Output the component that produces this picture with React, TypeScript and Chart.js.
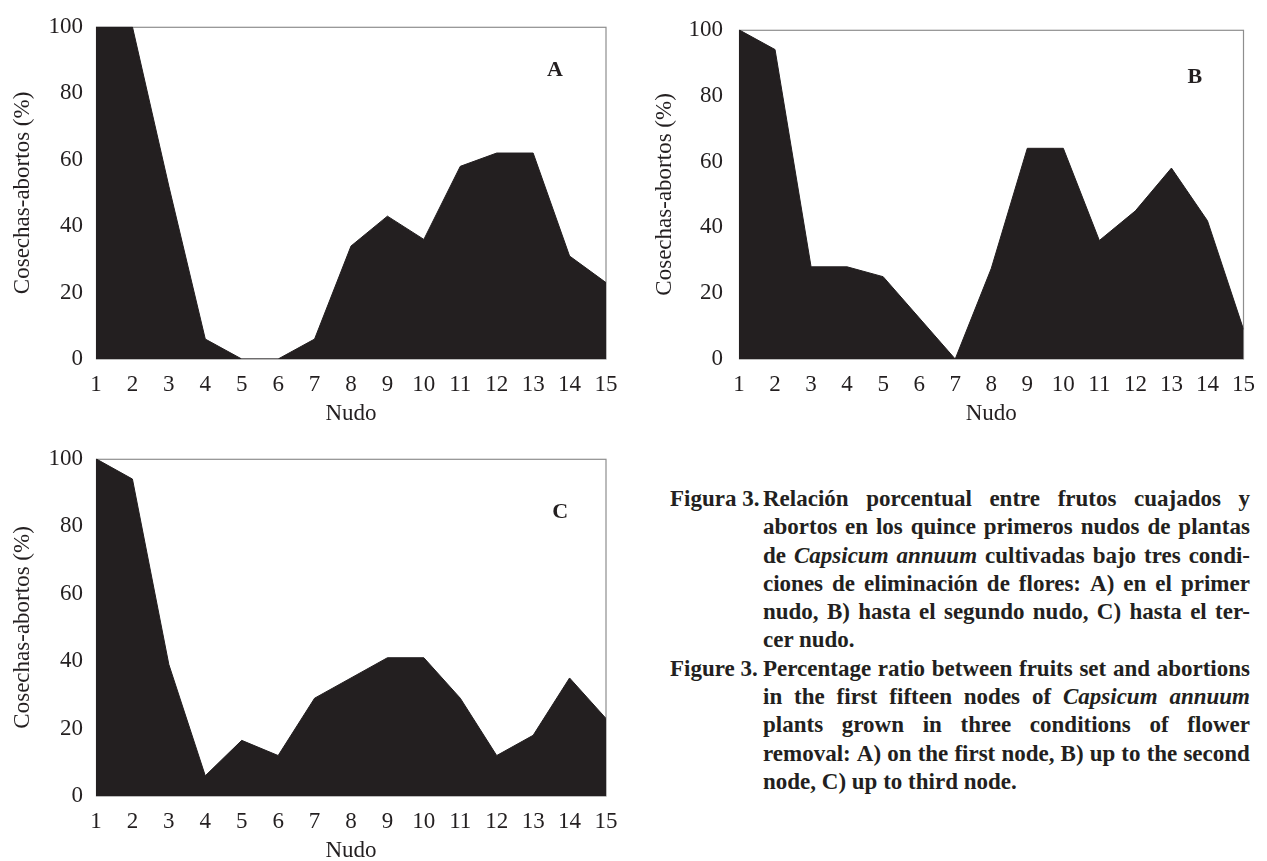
import React, { useEffect, useRef } from 'react';
import { Chart, registerables } from 'chart.js';

Chart.register(...registerables);

// ---------- data ----------
const nodes = [1, 2, 3, 4, 5, 6, 7, 8, 9, 10, 11, 12, 13, 14, 15];
const seriesA = [100, 100, 52, 6, 0, 0, 6, 34, 43, 36, 58, 62, 62, 31, 23];
const seriesB = [100, 94, 28, 28, 25, 12.5, 0, 27.5, 64, 64, 36, 45, 58, 42, 9];
const seriesC = [100, 94, 39, 6, 16.5, 12, 29, 35, 41, 41, 29, 12, 18, 35, 23];
const yTicks = [0, 20, 40, 60, 80, 100];
const yTitle = 'Cosechas-abortos (%)';
const xTitle = 'Nudo';

const captionLabelEs = 'Figura 3.';
const captionEs = [
  'Relación porcentual entre frutos cuajados y',
  'abortos en los quince primeros nudos de plantas',
  'de _Capsicum _annuum cultivadas bajo tres condi-',
  'ciones de eliminación de flores: A) en el primer',
  'nudo, B) hasta el segundo nudo, C) hasta el ter-',
  'cer nudo.',
];
const captionLabelEn = 'Figure 3.';
const captionEn = [
  'Percentage ratio between fruits set and abortions',
  'in the first fifteen nodes of _Capsicum _annuum',
  'plants grown in three conditions of flower',
  'removal: A) on the first node, B) up to the second',
  'node, C) up to third node.',
];

// ---------- style ----------
const INK = '#231f20';
const FRAME = '#8e8e8e';
const SERIF = '"Liberation Serif", "Times New Roman", serif';

const framePlugin = {
  id: 'frameBox',
  beforeDatasetsDraw(chart: any) {
    const { ctx, chartArea: a } = chart;
    ctx.save();
    ctx.strokeStyle = FRAME;
    ctx.lineWidth = 1.2;
    ctx.strokeRect(a.left + 0.5, a.top + 0.5, a.right - a.left - 0.5, a.bottom - a.top - 0.5);
    ctx.restore();
  },
};

const panelLabelPlugin = {
  id: 'panelLabel',
  afterDatasetsDraw(chart: any, _args: any, opts: any) {
    if (!opts || !opts.text) return;
    const { ctx, scales } = chart;
    const px = scales.x.getPixelForValue(opts.x);
    const py = scales.y.getPixelForValue(opts.y);
    ctx.save();
    ctx.fillStyle = INK;
    ctx.font = `bold 22px ${SERIF}`;
    ctx.textAlign = 'center';
    ctx.textBaseline = 'middle';
    ctx.fillText(opts.text, px, py);
    ctx.restore();
  },
};

type PanelProps = {
  values: number[];
  label: string;
  labelX: number;
  labelY: number;
  left: number;
  top: number;
  width: number;
  height: number;
  plotLeft: number;
  plotRight: number;
  plotTop: number;
  plotBottom: number;
  yTickPad: number;
  yTitlePad: number;
  xTitlePad: number;
};

function Panel(p: PanelProps) {
  const ref = useRef<HTMLCanvasElement | null>(null);
  useEffect(() => {
    if (!ref.current) return;
    const font = { family: SERIF, size: 23 };
    const chart = new Chart(ref.current, {
      type: 'line',
      data: {
        datasets: [
          {
            data: nodes.map((n, i) => ({ x: n, y: p.values[i] })),
            fill: 'origin',
            backgroundColor: INK,
            borderColor: INK,
            borderWidth: 1,
            pointRadius: 0,
            tension: 0,
          },
        ],
      },
      options: {
        responsive: false,
        animation: false,
        layout: {
          padding: { left: 0, top: p.plotTop, right: p.width - p.plotRight, bottom: 0 },
        },
        plugins: {
          legend: { display: false },
          tooltip: { enabled: false },
          panelLabel: { text: p.label, x: p.labelX, y: p.labelY },
        } as any,
        scales: {
          x: {
            type: 'linear',
            min: 1,
            max: 15,
            afterBuildTicks: (s: any) => {
              s.ticks = nodes.map((v) => ({ value: v }));
            },
            afterFit: (s: any) => {
              s.height = p.plotBottom === 0 ? s.height : p.height - p.plotBottom;
            },
            grid: { display: false, drawTicks: false },
            border: { display: false },
            ticks: {
              font,
              color: INK,
              padding: 12,
              autoSkip: false,
              maxRotation: 0,
              callback: (v: any) => String(v),
            },
            title: {
              display: true,
              text: xTitle,
              color: INK,
              font: { family: SERIF, size: 23, lineHeight: 0.9 },
              padding: { top: 0, bottom: p.xTitlePad },
            },
          },
          y: {
            min: 0,
            max: 100,
            afterBuildTicks: (s: any) => {
              s.ticks = yTicks.map((v) => ({ value: v }));
            },
            afterFit: (s: any) => {
              s.width = p.plotLeft;
            },
            grid: { display: false, drawTicks: false },
            border: { display: false },
            ticks: {
              font,
              color: INK,
              padding: p.yTickPad,
              callback: (v: any) => String(v),
            },
            title: {
              display: true,
              text: yTitle,
              color: INK,
              font,
              padding: { top: p.yTitlePad, bottom: 0 },
            },
          },
        },
      } as any,
      plugins: [framePlugin, panelLabelPlugin],
    });
    return () => chart.destroy();
  }, []);
  return (
    <div style={{ position: 'absolute', left: p.left, top: p.top, width: p.width, height: p.height }}>
      <canvas ref={ref} width={p.width} height={p.height} style={{ width: p.width, height: p.height, display: 'block' }} />
    </div>
  );
}

function Words({ line, justify }: { line: string; justify: boolean }) {
  const words = line.split(' ').map((w, i) => {
    const it = w.startsWith('_');
    const t = it ? w.slice(1) : w;
    return (
      <span key={i} style={{ fontStyle: it ? 'italic' : 'normal' }}>
        {t}
        {justify ? '' : ' '}
      </span>
    );
  });
  return (
    <div
      style={{
        flex: 1,
        display: 'flex',
        justifyContent: justify ? 'space-between' : 'flex-start',
        whiteSpace: 'pre',
      }}
    >
      {words}
    </div>
  );
}

function Caption() {
  const rows: { label: string; text: string; justify: boolean }[] = [];
  captionEs.forEach((t, i) => rows.push({ label: i === 0 ? captionLabelEs : '', text: t, justify: i < captionEs.length - 1 }));
  captionEn.forEach((t, i) => rows.push({ label: i === 0 ? captionLabelEn : '', text: t, justify: i < captionEn.length - 1 }));
  return (
    <div
      style={{
        position: 'absolute',
        left: 670,
        top: 485,
        width: 580,
        fontFamily: SERIF,
        fontWeight: 'bold',
        fontSize: 23,
        lineHeight: '28.3px',
        color: INK,
      }}
    >
      {rows.map((r, i) => (
        <div key={i} style={{ display: 'flex', height: 28.3 }}>
          <div style={{ width: 93, flex: '0 0 93px', whiteSpace: 'pre' }}>{r.label}</div>
          <Words line={r.text} justify={r.justify} />
        </div>
      ))}
    </div>
  );
}

export default function App() {
  return (
    <div
      style={{
        position: 'absolute',
        left: 0,
        top: 0,
        width: 1267,
        height: 861,
        background: '#ffffff',
        overflow: 'hidden',
      }}
    >
      <Panel
        values={seriesA}
        label="A"
        labelX={13.6}
        labelY={87}
        left={0}
        top={0}
        width={630}
        height={430}
        plotLeft={96}
        plotRight={606}
        plotTop={18}
        plotBottom={359}
        yTickPad={13}
        yTitlePad={9}
        xTitlePad={6}
      />
      <Panel
        values={seriesB}
        label="B"
        labelX={13.65}
        labelY={85.6}
        left={640}
        top={0}
        width={627}
        height={430}
        plotLeft={99}
        plotRight={609}
        plotTop={19}
        plotBottom={359}
        yTickPad={16}
        yTitlePad={11}
        xTitlePad={6}
      />
      <Panel
        values={seriesC}
        label="C"
        labelX={13.74}
        labelY={84}
        left={0}
        top={432}
        width={630}
        height={429}
        plotLeft={96}
        plotRight={606}
        plotTop={23}
        plotBottom={364}
        yTickPad={13}
        yTitlePad={9}
        xTitlePad={0}
      />
      <Caption />
    </div>
  );
}
